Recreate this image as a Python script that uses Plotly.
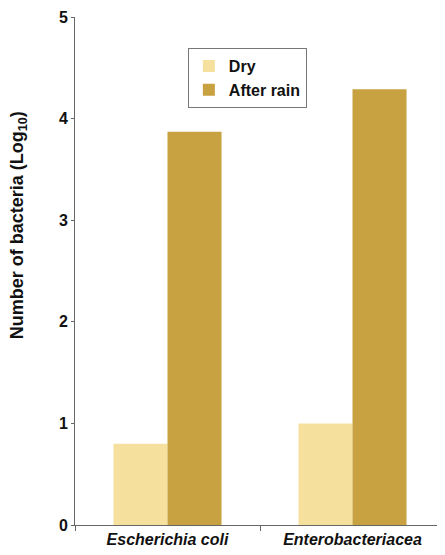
import plotly.graph_objects as go

categories = ["<i>Escherichia coli</i>", "<i>Enterobacteriacea</i>"]
dry = [0.8, 1.0]
after_rain = [3.87, 4.29]
y_ticks = [0, 1, 2, 3, 4, 5]

FONT = "Liberation Sans, Arial, sans-serif"

fig = go.Figure()
fig.add_trace(go.Bar(name="Dry", x=categories, y=dry,
                     marker=dict(color="#F5E09E", line=dict(width=0))))
fig.add_trace(go.Bar(name="After rain", x=categories, y=after_rain,
                     marker=dict(color="#C8A141", line=dict(width=0))))

# the page body adds an 8px offset, so the figure is sized to compensate
fig.update_layout(
    template="none",
    width=437, height=547,
    margin=dict(l=67, r=0, t=9, b=30, pad=0, autoexpand=False),
    paper_bgcolor="white", plot_bgcolor="white",
    barmode="group", bargap=0.416, bargroupgap=0,
    font=dict(family=FONT, color="#111"),
    showlegend=True,
    legend=dict(x=0.305, y=0.939, xanchor="left", yanchor="top",
                bordercolor="#777", borderwidth=1, bgcolor="white",
                font=dict(size=16, family=FONT, weight="bold"),
                itemwidth=30, tracegroupgap=0, traceorder="normal"),
    xaxis=dict(range=[-0.5, 1.5], showline=True, linecolor="#666", linewidth=1,
               ticks="outside", tickson="boundaries", ticklen=5, tickcolor="#666",
               tickfont=dict(size=16, weight="bold"), showgrid=False,
               automargin=False),
    yaxis=dict(range=[0, 5], tickvals=y_ticks, showline=True, linecolor="#666",
               linewidth=1, ticks="outside", ticklen=3, tickcolor="#666",
               tickfont=dict(size=16, weight="bold"), showgrid=False, zeroline=False,
               automargin=False),
    annotations=[dict(text="Number of bacteria (Log<sub>10</sub>)", textangle=-90,
                      xref="paper", yref="paper", x=-0.154, y=0.59,
                      xanchor="center", yanchor="middle", showarrow=False,
                      font=dict(size=18, weight="bold", family=FONT))],
)

fig.write_html("out.html")
